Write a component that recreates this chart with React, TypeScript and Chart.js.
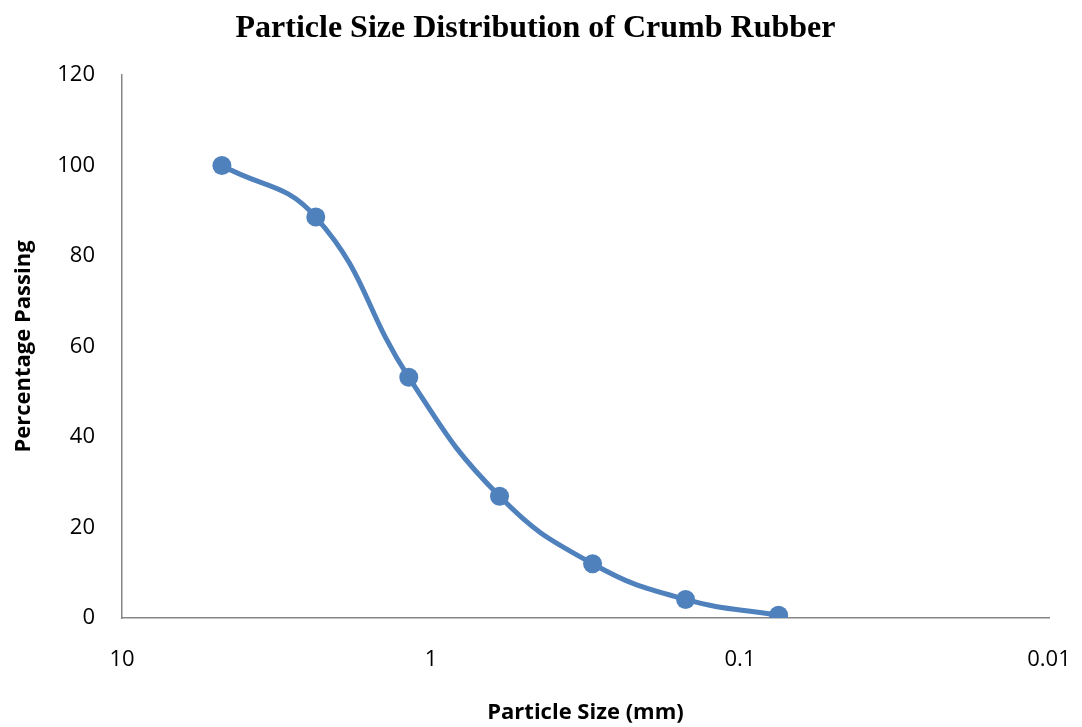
import React, { useEffect, useRef } from "react";
import { Chart, registerables } from "chart.js";

Chart.register(...registerables);

const particleSizes: number[] = [4.75, 2.36, 1.18, 0.6, 0.3, 0.15, 0.075];
const percentPassing: number[] = [100, 88.6, 53.2, 26.9, 12.0, 4.1, 0.6];
const xTickValues: number[] = [10, 1, 0.1, 0.01];
const yTickValues: number[] = [0, 20, 40, 60, 80, 100, 120];

const titleText = "Particle Size Distribution of Crumb Rubber";
const xTitle = "Particle Size (mm)";
const yTitle = "Percentage Passing";

export default function App() {
  const canvasRef = useRef<HTMLCanvasElement | null>(null);

  useEffect(() => {
    document.body.style.margin = "0";
    const canvas = canvasRef.current;
    if (!canvas) return;
    const blue = "#4F81BD";
    const axisColor = "#868686";
    const tickFont = { family: "'Open Sans', 'Liberation Sans', sans-serif", size: 22 };
    const axisTitleFont = { family: "'Open Sans', 'Liberation Sans', sans-serif", size: 22, weight: "bold" };
    const chart = new Chart(canvas, {
      type: "scatter",
      data: {
        datasets: [
          {
            data: particleSizes.map((x, i) => ({ x, y: percentPassing[i] })),
            showLine: true,
            borderColor: blue,
            backgroundColor: blue,
            borderWidth: 5,
            pointRadius: 9.5,
            pointBackgroundColor: blue,
            pointBorderColor: blue,
            pointBorderWidth: 0,
            tension: 0.45,
          },
        ],
      },
      options: {
        responsive: false,
        animation: false,
        layout: { padding: { left: 22, right: 33, top: 0, bottom: 0 } },
        plugins: {
          legend: { display: false },
          tooltip: { enabled: false },
          title: {
            display: true,
            text: titleText,
            color: "#000000",
            font: { family: "'Liberation Serif', 'Times New Roman', serif", size: 32, weight: "bold" },
            padding: { top: 10, bottom: 26.6 },
          },
        },
        scales: {
          x: {
            type: "logarithmic",
            reverse: true,
            min: 0.01,
            max: 10,
            grid: { display: false, drawTicks: false },
            border: { display: true, color: axisColor, width: 1.5 },
            afterBuildTicks: (scale: any) => {
              scale.ticks = xTickValues.map((v) => ({ value: v }));
            },
            afterFit: (scale: any) => {
              scale.height = 109;
              scale.paddingLeft = 0;
              scale.paddingRight = 0;
            },
            ticks: {
              color: "#000000",
              font: tickFont,
              padding: 29,
              autoSkip: false,
              maxRotation: 0,
              callback: (v: any) => String(v),
            },
            title: {
              display: true,
              text: xTitle,
              color: "#000000",
              font: axisTitleFont,
              padding: { top: 1, bottom: 1 },
            },
          },
          y: {
            type: "linear",
            min: 0,
            max: 120,
            grid: { display: false, drawTicks: false },
            border: { display: true, color: axisColor, width: 1.5 },
            afterBuildTicks: (scale: any) => {
              scale.ticks = yTickValues.map((v) => ({ value: v }));
            },
            afterFit: (scale: any) => {
              scale.width = 100;
            },
            ticks: {
              color: "#000000",
              font: tickFont,
              padding: 27,
              callback: (v: any) => String(v),
            },
            title: {
              display: true,
              text: yTitle,
              color: "#000000",
              font: axisTitleFont,
              padding: { top: -11, bottom: 1 },
            },
          },
        },
      },
    } as any);
    return () => chart.destroy();
  }, []);

  return (
    <div style={{ width: 1082, height: 727, background: "#ffffff" }}>
      <canvas ref={canvasRef} width={1082} height={727} />
    </div>
  );
}
